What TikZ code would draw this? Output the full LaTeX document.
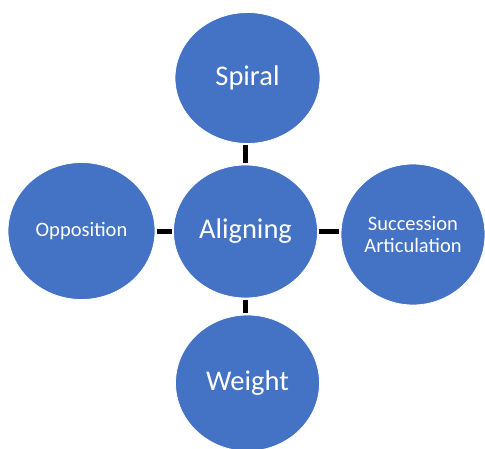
\documentclass[tikz,border=0pt]{standalone}
\usepackage{fontspec}
\setmainfont{Carlito}
\usetikzlibrary{shapes.geometric}
\definecolor{bubble}{HTML}{4472C4}
\begin{document}
\begin{tikzpicture}[x=1pt,y=-1pt,
  bub/.style={ellipse, fill=bubble, draw=white, line width=0.8pt, text=white, inner sep=0pt, align=center},
  link/.style={draw=black, line width=5pt, shorten <=1.5pt, shorten >=1.5pt}]
\useasboundingbox (0,0) rectangle (485,448);
\clip (0,0) rectangle (485,448);
\node[bub, minimum width=144pt, minimum height=133pt, font=\fontsize{28.5}{34}\selectfont] (align) at (245.5,231.5) {Aligning};
\node[bub, minimum width=145pt, minimum height=131pt, font=\fontsize{28.5}{34}\selectfont] (spiral) at (247.5,78) {Spiral};
\node[bub, minimum width=144pt, minimum height=136pt, font=\fontsize{28.5}{34}\selectfont] (weight) at (247.5,383) {Weight};
\node[bub, minimum width=147pt, minimum height=137pt, font=\fontsize{20.5}{22}\selectfont] (opp) at (81.5,231) {Opposition};
\node[bub, minimum width=144pt, minimum height=141pt, font=\fontsize{20.5}{22}\selectfont] (succ) at (413,234.5) {Succession\\Articulation};
\draw[link] (spiral.south -| align.north) -- (align.north);
\draw[link] (align.south) -- (align.south |- weight.north);
\draw[link] (opp.east) -- (opp.east -| align.west);
\draw[link] (align.east) -- (align.east -| succ.west);
\end{tikzpicture}
\end{document}
